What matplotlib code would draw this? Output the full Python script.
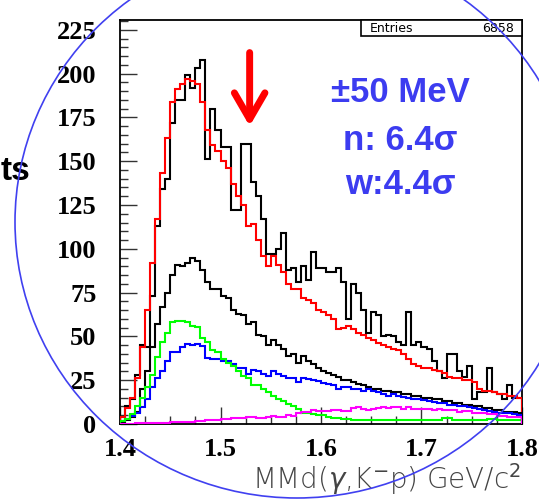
import matplotlib
matplotlib.use('Agg')
import matplotlib.pyplot as plt
import numpy as np
from matplotlib.patches import Ellipse, Rectangle

# 80 bins of 5 MeV between 1.40 and 1.80 GeV
edges = np.linspace(1.4, 1.8, 81)

data_total = [4, 10, 14, 28, 45, 44, 73, 113, 134, 140,
              172, 185, 185, 199, 192, 203, 208, 151, 180, 168,
              158, 158, 122, 122, 160, 160, 138, 130, 117, 97,
              97, 100, 109, 88, 89, 81, 90, 82, 98, 89,
              89, 87, 87, 89, 81, 60, 80, 75, 65, 52,
              64, 62, 50, 51, 50, 47, 45, 64, 45, 47,
              44, 43, 36, 30, 26, 40, 40, 30, 27, 33,
              14, 18, 18, 32, 18, 17, 14, 22, 15, 15]

fit_total = [4, 9, 15, 26, 44, 65, 92, 117, 143, 163,
             184, 191, 194, 197, 196, 194, 184, 168, 159, 156,
             150, 146, 137, 130, 125, 113, 114, 105, 96, 90,
             96, 91, 87, 80, 77, 77, 72, 71, 69, 65,
             64, 62, 60, 54, 55, 56, 54, 52, 51, 49,
             48, 46, 45, 44, 43, 42, 40, 37, 34, 33,
             32, 32, 31, 30, 29, 27, 26, 26, 25, 25,
             24, 20, 19, 19, 18, 17, 17, 16, 16, 15]

data_low = [1, 2, 4, 7, 20, 30, 44, 57, 67, 75,
            85, 91, 90, 92, 95, 93, 88, 81, 77, 77,
            73, 72, 65, 63, 62, 57, 58, 51, 50, 45,
            48, 45, 43, 39, 40, 35, 39, 36, 34, 32,
            30, 29, 28, 27, 25, 25, 24, 23, 22, 21,
            20, 20, 19, 19, 18, 18, 17, 17, 16, 16,
            15, 15, 14, 14, 13, 13, 12, 12, 11, 11,
            10, 10, 9, 9, 8, 8, 7, 7, 7, 6]

blue_comp = [1.5, 3, 4.5, 6.5, 9.5, 14, 21, 26.5, 30, 36,
             41, 41, 44, 45.5, 45, 45.5, 44.5, 37.5, 37, 37,
             36, 36, 34, 32, 32, 28.5, 31, 30, 28.5, 27.5,
             30, 28.5, 27.5, 26.5, 26, 24, 26, 25.5, 25, 24.5,
             23.5, 23, 22.5, 20, 21, 21, 20, 20, 19, 20,
             19, 18, 17, 16, 17, 16, 15.5, 15, 14.5, 14,
             13.5, 13, 12.5, 12, 12, 11, 11, 10.5, 10, 9.5,
             9, 8.5, 8, 7.5, 7, 6.5, 6, 6, 5.5, 5]

green_comp = [1.5, 3, 5.5, 10, 15, 21, 28, 38, 47, 52,
              58, 59, 59, 58.5, 56, 55.5, 49, 47, 42, 41,
              37, 35, 33, 30, 27.5, 26, 22.5, 22, 20, 18,
              16, 14.5, 13, 11.5, 10, 8.5, 6.5, 6.5, 5.5, 5,
              5, 4, 3.5, 3.5, 3, 3, 2.5, 2.5, 2.5, 2,
              2, 2, 2, 2, 2, 2, 2, 2, 2.5, 2,
              2, 2, 2, 2.5, 3.5, 3.5, 2.5, 2.5, 2.5, 2,
              2, 2.5, 2.5, 3, 3, 2.5, 2.5, 2.5, 2.5, 2.5]

magenta_comp = [0, 0, 0.2, 0.3, 0.3, 0.5, 0.5, 0.5, 0.5, 0.5,
                1, 1, 1, 1, 1.2, 1.5, 1.5, 2, 2, 2.5,
                3, 3, 3.2, 3.5, 3.7, 4, 4, 3.7, 3.7, 3.8,
                4.6, 4.2, 4.2, 5.4, 4.6, 6.5, 6.8, 7, 7.9, 7.5,
                7.5, 7.3, 8, 8, 7.5, 7.5, 9.4, 9.8, 8.5, 8,
                8.5, 9.4, 9.8, 9.4, 9.8, 9.8, 8.4, 9.8, 8.4, 8.8,
                8.8, 8.4, 8, 8.4, 8.2, 7.8, 8, 7, 7.2, 7.2,
                6.4, 6.2, 6.2, 5.6, 5.6, 4.6, 4.6, 4.2, 4.2, 3.8]

x_ticks = [1.4, 1.5, 1.6, 1.7, 1.8]
y_ticks = [0, 25, 50, 75, 100, 125, 150, 175, 200, 225]
entries = 6858
arrow_x = 1.529
arrow_y = (212, 170)

W, H = 539, 504
fig = plt.figure(figsize=(W / 100, H / 100), dpi=100)
ax = fig.add_axes([120 / W, 1 - 424 / H, 402 / W, 404 / H])

# histograms
ax.stairs(data_total, edges, baseline=0, color='black', lw=1.5, zorder=3)
ax.stairs(fit_total, edges, baseline=0, color='#ff0000', lw=1.5, zorder=3)
ax.stairs(data_low, edges, baseline=0, color='black', lw=1.5, zorder=3)
ax.stairs(blue_comp, edges, baseline=0, color='#0000ff', lw=1.5, zorder=3)
ax.stairs(green_comp, edges, baseline=0, color='#00ff00', lw=1.5, zorder=3)
ax.stairs(magenta_comp, edges, baseline=0, color='#ff00ff', lw=1.5, zorder=3)

ax.set_xlim(1.4, 1.8)
ax.set_ylim(0, 230.6)
ax.set_xticks(x_ticks)
ax.set_xticklabels([f'{v:.1f}' for v in x_ticks])
ax.set_yticks(y_ticks)
ax.set_yticklabels([str(v) for v in y_ticks])
ax.set_xticks(np.arange(1.4, 1.8001, 0.025), minor=True)
ax.set_yticks(np.arange(0, 231, 5), minor=True)
ax.tick_params(which='both', direction='in', top=False, right=False, color='#333333')
ax.tick_params(which='major', length=12, width=1)
ax.tick_params(which='minor', length=6, width=1)
ax.tick_params(axis='y', which='major', pad=17)
ax.tick_params(axis='x', which='major', pad=10)
for lab in ax.get_xticklabels() + ax.get_yticklabels():
    lab.set_fontfamily('Liberation Serif')
    lab.set_fontweight('bold')
    lab.set_fontsize(19)
for sp in ax.spines.values():
    sp.set_linewidth(1.3)

# arrow marking the peak
ax.annotate('', xy=(arrow_x, arrow_y[1]), xytext=(arrow_x, arrow_y[0]),
            arrowprops=dict(arrowstyle='->, head_length=0.95, head_width=0.55',
                            lw=5, color='#ff0000', mutation_scale=20,
                            shrinkA=0, shrinkB=0), zorder=5)

# stats box
fig.add_artist(Rectangle((361 / W, 1 - 36 / H), 161 / W, 16 / H, transform=fig.transFigure,
                         facecolor='white', edgecolor='black', lw=1.2, zorder=6))
fig.text(370 / W, 1 - 28.5 / H, 'Entries', fontsize=9, va='center', ha='left', zorder=7)
fig.text(514 / W, 1 - 28.5 / H, str(entries), fontsize=9, va='center', ha='right', zorder=7)

# significance text
blue_txt = '#3c3cf0'
for s, yp in [('±50 MeV', 93), ('n: 6.4σ', 140), ('w:4.4σ', 185)]:
    fig.text(400 / W, 1 - yp / H, s, fontsize=25, fontweight='bold', color=blue_txt,
             family='Liberation Sans', ha='center', va='center')

# axis titles (y title is cropped in the reference, only its tail shows)
fig.text(521 / W, 1 - 479 / H, r'MMd($\gamma$,K$^{-}$p) GeV/c$^{2}$', fontsize=20,
         color='#444444', ha='right', va='center', fontweight='light')
fig.text(1 / W, 1 - 172 / H, 'ts', fontsize=24, fontweight='bold',
         family='Liberation Sans', ha='left', va='center')

# overlay ellipse
fig.add_artist(Ellipse((297 / W, 1 - 222 / H), 564 / W, 552 / H, transform=fig.transFigure,
                       fill=False, edgecolor='#4040f0', lw=1.2, zorder=10))

fig.savefig('out.png', dpi=100)
